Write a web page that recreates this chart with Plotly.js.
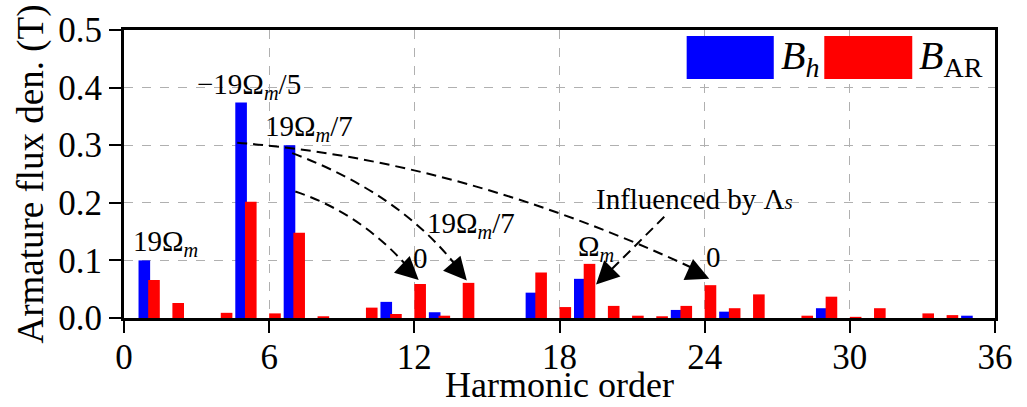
<!DOCTYPE html>
<html>
<head>
<meta charset="utf-8">
<script src="https://cdn.plot.ly/plotly-3.0.1.min.js"></script>
<style>html,body{margin:0;padding:0;background:#fff;}#chart{width:1027px;height:407px;}</style>
</head>
<body>
<div id="chart"></div>
<script>
// Harmonic orders and amplitudes (T)
const bhOrders = [1, 5, 7, 11, 13, 17, 19, 23, 25, 29, 35];
const bhValues = [0.100, 0.374, 0.300, 0.028, 0.010, 0.044, 0.068, 0.014, 0.011, 0.017, 0.004];
const barOrders = [1, 2, 4, 5, 6, 7, 8, 10, 11, 12, 13, 14, 17, 18, 19, 20, 21, 22, 23, 24, 25, 26, 28, 29, 30, 31, 33, 34];
const barValues = [0.066, 0.026, 0.009, 0.202, 0.008, 0.148, 0.003, 0.018, 0.007, 0.059, 0.004, 0.061, 0.079, 0.019, 0.094, 0.021, 0.004, 0.003, 0.021, 0.057, 0.017, 0.041, 0.004, 0.037, 0.002, 0.017, 0.008, 0.005];
const xTicks = [0, 6, 12, 18, 24, 30, 36];
const yTicks = [0.0, 0.1, 0.2, 0.3, 0.4, 0.5];

const FONT = 'Liberation Serif';
const BLUE = '#0000ff', RED = '#ff0000';

const traces = [
  {type: 'bar', name: 'B_h', x: bhOrders, y: bhValues, offset: -0.4, width: 0.48,
   marker: {color: BLUE, line: {width: 0}}, showlegend: false, hoverinfo: 'x+y'},
  {type: 'bar', name: 'B_AR', x: barOrders, y: barValues, offset: 0, width: 0.48,
   marker: {color: RED, line: {width: 0}}, showlegend: false, hoverinfo: 'x+y'}
];

const dash = {color: '#000', width: 2, dash: '10px,6px'};
const shapes = [
  {type: 'path', xref: 'x', yref: 'y', path: 'M 4.68,0.3042 Q 13.92,0.2747 23.65,0.0837', line: dash},
  {type: 'path', xref: 'x', yref: 'y', path: 'M 6.95,0.2863 Q 11.43,0.2156 13.79,0.0872', line: dash},
  {type: 'path', xref: 'x', yref: 'y', path: 'M 7.08,0.2196 Q 9.78,0.1819 11.76,0.0872', line: dash},
  {type: 'line', xref: 'x', yref: 'y', x0: 22.33, y0: 0.1757, x1: 19.80, y1: 0.0698, line: dash},
  // legend swatches
  {type: 'rect', xref: 'paper', yref: 'paper', x0: 0.646, x1: 0.746, y0: 0.830, y1: 0.979, fillcolor: BLUE, line: {width: 0}},
  {type: 'rect', xref: 'paper', yref: 'paper', x0: 0.804, x1: 0.905, y0: 0.830, y1: 0.979, fillcolor: RED, line: {width: 0}}
];

function lab(t, x, y, size) {
  return {text: t, x: x, y: y, xref: 'x', yref: 'y', showarrow: false, xanchor: 'center', yanchor: 'middle',
          font: {family: FONT, size: size || 29, color: '#000'}};
}
function head(x, y, ax, ay) {
  return {text: ' ', x: x, y: y, xref: 'x', yref: 'y', ax: ax, ay: ay, showarrow: true,
          arrowhead: 2, arrowsize: 2.3, arrowwidth: 2, arrowcolor: '#000', standoff: 0,
          font: {family: FONT, size: 2, color: '#000'}};
}
const annotations = [
  lab('19Ω<sub><i>m</i></sub>', 1.70, 0.131),
  lab('−19Ω<sub><i>m</i></sub>/5', 5.18, 0.403),
  lab('19Ω<sub><i>m</i></sub>/7', 7.66, 0.330),
  lab('0', 12.26, 0.105),
  lab('19Ω<sub><i>m</i></sub>/7', 14.33, 0.162),
  lab('Ω<sub><i>m</i></sub>', 19.51, 0.122),
  lab('0', 24.36, 0.106),
  lab('Influenced by Λ<span style="font-size:21px"><i>s</i></span>', 23.57, 0.207, 29),
  head(24.19, 0.068, -20, -9),
  head(14.17, 0.065, -13, -15),
  head(12.18, 0.066, -14, -13),
  head(19.51, 0.058, 14, -14),
  {text: '<i>B</i><sub><i>h</i></sub>', xref: 'paper', yref: 'paper', x: 0.752, y: 0.903, xanchor: 'left', yanchor: 'middle',
   showarrow: false, font: {family: FONT, size: 40, color: '#000'}},
  {text: '<i>B</i><sub>AR</sub>', xref: 'paper', yref: 'paper', x: 0.910, y: 0.903, xanchor: 'left', yanchor: 'middle',
   showarrow: false, font: {family: FONT, size: 40, color: '#000'}},
  // x-axis title
  {text: 'Harmonic order', xref: 'paper', yref: 'paper', x: 0.5, y: -0.306, xanchor: 'center', yanchor: 'bottom',
   showarrow: false, borderpad: 0, font: {family: FONT, size: 36, color: '#000'}}
];

const layout = {
  width: 1027, height: 407,
  margin: {l: 124, r: 32, t: 30, b: 89},
  paper_bgcolor: '#fff', plot_bgcolor: '#fff',
  font: {family: FONT, color: '#000'},
  barmode: 'overlay',
  xaxis: {
    range: [0, 36], tickvals: xTicks, ticktext: xTicks.map(String),
    showline: true, mirror: true, linecolor: '#000', linewidth: 3,
    ticks: 'outside', ticklen: 12, tickwidth: 2, tickcolor: '#000', ticklabelstandoff: -6,
    showgrid: true, gridcolor: '#b0b0b0', griddash: 'dash', gridwidth: 1,
    zeroline: false, tickfont: {family: FONT, size: 35, color: '#000'}
  },
  yaxis: {
    range: [0, 0.5], tickvals: yTicks, tickformat: '.1f',
    showline: true, mirror: true, linecolor: '#000', linewidth: 3,
    ticks: 'outside', ticklen: 12, tickwidth: 2, tickcolor: '#000',
    showgrid: true, gridcolor: '#b0b0b0', griddash: 'dash', gridwidth: 1,
    zeroline: false, tickfont: {family: FONT, size: 35, color: '#000'},
    title: {text: 'Armature flux den. (T)', font: {family: FONT, size: 37, color: '#000'}, standoff: 4}
  },
  shapes: shapes,
  annotations: annotations
};

Plotly.newPlot('chart', traces, layout, {staticPlot: true, displayModeBar: false});
</script>
</body>
</html>
